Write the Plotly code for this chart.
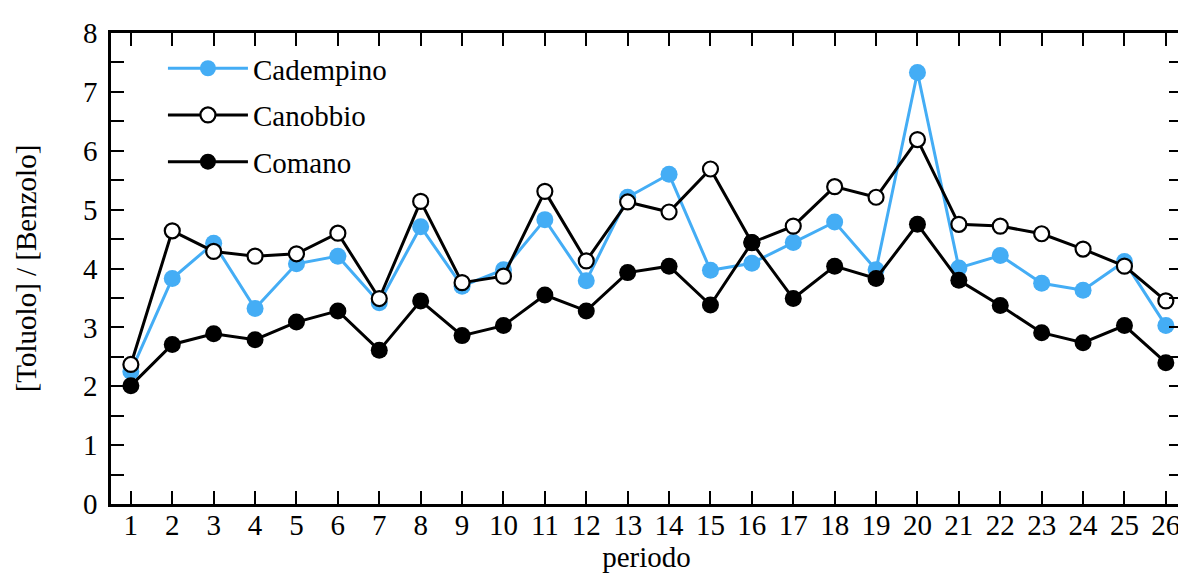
import plotly.graph_objects as go

periodo = list(range(1, 27))
cadempino = [2.25, 3.83, 4.43, 3.32, 4.08, 4.21, 3.42, 4.71, 3.70, 3.98,
             4.83, 3.79, 5.21, 5.60, 3.97, 4.09, 4.44, 4.79, 3.98, 7.33,
             4.01, 4.22, 3.75, 3.63, 4.12, 3.03]
canobbio = [2.37, 4.64, 4.29, 4.21, 4.25, 4.60, 3.49, 5.14, 3.76, 3.87,
            5.31, 4.13, 5.13, 4.96, 5.69, 4.44, 4.72, 5.39, 5.21, 6.19,
            4.75, 4.72, 4.59, 4.33, 4.04, 3.45]
comano = [2.01, 2.71, 2.89, 2.79, 3.09, 3.28, 2.61, 3.45, 2.86, 3.03,
          3.55, 3.28, 3.93, 4.04, 3.38, 4.44, 3.49, 4.04, 3.83, 4.75,
          3.80, 3.37, 2.91, 2.74, 3.03, 2.40]

y_tickvals = [i * 0.5 for i in range(17)]
y_ticktext = [str(int(v)) if v == int(v) else "" for v in y_tickvals]

BLUE = "#44adf5"
FONT = "Liberation Serif"
FS = 29

fig = go.Figure()
fig.add_trace(go.Scatter(
    x=periodo, y=cadempino, name="Cadempino", mode="lines+markers",
    legendgroup="a",
    line=dict(color=BLUE, width=3),
    marker=dict(color=BLUE, size=17, line=dict(width=0)),
))
fig.add_trace(go.Scatter(
    x=periodo, y=canobbio, name="Canobbio", mode="lines+markers",
    legendgroup="b",
    line=dict(color="black", width=3),
    marker=dict(color="white", size=15, line=dict(color="black", width=2.2)),
))
fig.add_trace(go.Scatter(
    x=periodo, y=comano, name="Comano", mode="lines+markers",
    legendgroup="c",
    line=dict(color="black", width=3),
    marker=dict(color="black", size=17, line=dict(width=0)),
))

fig.update_layout(
    width=1186, height=575,
    margin=dict(l=103, r=9, t=19, b=79),
    paper_bgcolor="white", plot_bgcolor="white",
    font=dict(family=FONT, size=FS, color="black"),
    showlegend=True,
    legend=dict(
        x=0.0485, y=0.979, xanchor="left", yanchor="top",
        bgcolor="rgba(0,0,0,0)", borderwidth=0,
        itemwidth=80, tracegroupgap=6,
        font=dict(family=FONT, size=FS),
    ),
    xaxis=dict(
        range=[0.52, 26.39], tickvals=periodo, ticktext=[str(p) for p in periodo],
        ticks="inside", ticklen=13, tickwidth=2, tickcolor="black",
        showline=True, linewidth=2.5, linecolor="black", mirror="ticks",
        showgrid=False, zeroline=False, tickfont=dict(family=FONT, size=FS),
        ticklabelstandoff=-7,
        title=dict(text="periodo", standoff=4, font=dict(family=FONT, size=FS)),
    ),
    yaxis=dict(
        range=[0, 8], tickvals=y_tickvals, ticktext=y_ticktext,
        ticks="inside", ticklen=13, tickwidth=2, tickcolor="black",
        showline=True, linewidth=2.5, linecolor="black", mirror="ticks",
        showgrid=False, zeroline=False, tickfont=dict(family=FONT, size=FS),
        ticklabelstandoff=5,
        title=dict(text="[Toluolo] / [Benzolo]", standoff=38, font=dict(family=FONT, size=FS)),
    ),
)

fig.write_html("out.html")
